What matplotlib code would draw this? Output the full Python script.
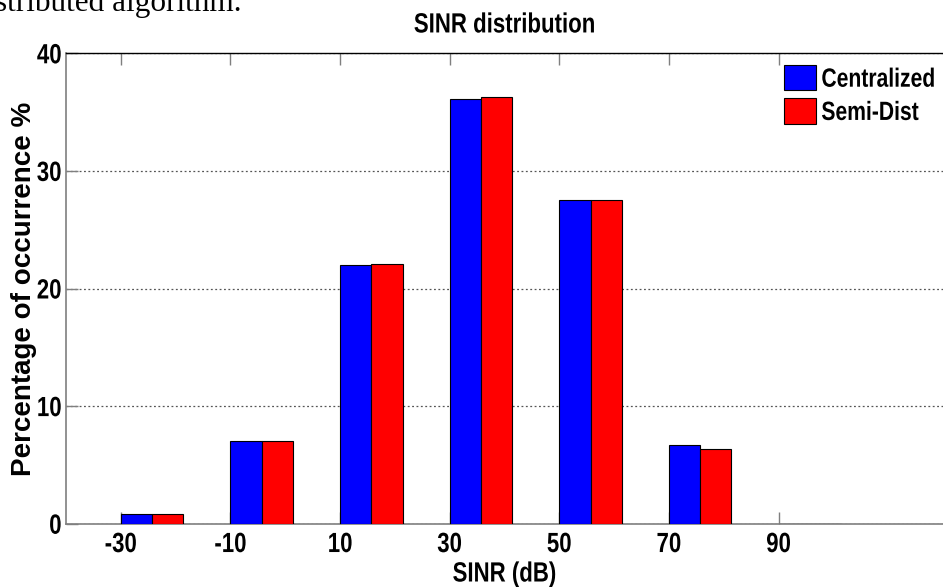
"""
SINR distribution: centralized vs. semi-distributed algorithm.
"""

import matplotlib.pyplot as plt
from matplotlib.patches import Patch
from matplotlib.patheffects import AbstractPathEffect
from matplotlib.transforms import Affine2D

# ---------------------------------------------------------------------
# Data
# ---------------------------------------------------------------------

SINR_BINS = [-30, -10, 10, 30, 50, 70, 90]
CENTRALIZED = [0.8, 7.0, 22.0, 36.1, 27.5, 6.7, 0.0]
SEMI_DIST = [0.8, 7.0, 22.1, 36.3, 27.5, 6.35, 0.0]
SERIES_LABELS = ["Centralized", "Semi-Dist"]
Y_TICKS = [0, 10, 20, 30, 40]

BAR_WIDTH = 5.7
FONT = ["Liberation Sans", "DejaVu Sans"]
SPINE_GREY = "#7f7f7f"
SQUEEZE = 0.8

plt.rcParams["axes.unicode_minus"] = False


class Squeeze(AbstractPathEffect):
    """Draw text horizontally compressed (the original is a narrow bold)."""

    def __init__(self, sx=SQUEEZE, anchor="center"):
        super().__init__()
        self.sx = sx
        self.anchor = anchor

    def draw_path(self, renderer, gc, tpath, affine, rgbFace=None):
        ext = tpath.get_extents()
        if self.anchor == "left":
            x0 = ext.x0
        elif self.anchor == "right":
            x0 = ext.x1
        else:
            x0 = (ext.x0 + ext.x1) / 2
        squeeze = Affine2D().translate(-x0, 0).scale(self.sx, 1).translate(x0, 0)
        renderer.draw_path(gc, tpath, squeeze + affine, rgbFace)


def main() -> None:
    fig = plt.figure(figsize=(9.43, 5.87), dpi=100)
    ax = fig.add_axes([66 / 943, 1 - 523.7 / 587, 877 / 943, 470.4 / 587])

    # bars start at the bin tick and sit side by side
    ax.bar(SINR_BINS, CENTRALIZED, width=BAR_WIDTH, align="edge",
           color="#0000ff", edgecolor="black", linewidth=0.8, zorder=3)
    ax.bar([b + BAR_WIDTH for b in SINR_BINS], SEMI_DIST, width=BAR_WIDTH,
           align="edge", color="#ff0000", edgecolor="black", linewidth=0.8,
           zorder=3)

    ax.set_xlim(-40, 120)
    ax.set_ylim(0, 40)
    ax.set_xticks(SINR_BINS)
    ax.set_yticks(Y_TICKS)
    ax.yaxis.grid(True, linestyle=(0, (1.5, 2.0)), color="#555555",
                  linewidth=0.9, zorder=1)

    ax.tick_params(axis="both", direction="in", length=8.5, width=1,
                   color=SPINE_GREY, top=True, right=False)
    ax.tick_params(axis="x", pad=6)
    ax.tick_params(axis="y", pad=3)
    for lbl in ax.get_xticklabels():
        lbl.set_fontfamily(FONT)
        lbl.set_fontweight("bold")
        lbl.set_fontsize(20)
        lbl.set_path_effects([Squeeze(anchor="center")])
    for lbl in ax.get_yticklabels():
        lbl.set_fontfamily(FONT)
        lbl.set_fontweight("bold")
        lbl.set_fontsize(20)
        lbl.set_path_effects([Squeeze(anchor="right")])

    for side in ("left", "bottom"):
        ax.spines[side].set_color(SPINE_GREY)
        ax.spines[side].set_linewidth(1.2)
    ax.spines["top"].set_color("black")
    ax.spines["top"].set_linewidth(1.0)
    ax.spines["right"].set_visible(False)

    title = ax.set_title("SINR distribution", family=FONT, fontweight="bold",
                         fontsize=20, pad=15)
    title.set_path_effects([Squeeze(anchor="center")])
    xlab = ax.set_xlabel("SINR (dB)", family=FONT, fontweight="bold",
                         fontsize=20, labelpad=2.5)
    xlab.set_path_effects([Squeeze(anchor="center")])
    ax.set_ylabel("Percentage of occurrence %", family=FONT,
                  fontweight="bold", fontsize=20)
    ax.yaxis.set_label_coords(-0.033, 0.5)

    handles = [
        Patch(facecolor="#0000ff", edgecolor="black", linewidth=0.8),
        Patch(facecolor="#ff0000", edgecolor="black", linewidth=0.8),
    ]
    leg = ax.legend(handles, SERIES_LABELS, loc="upper left",
                    bbox_to_anchor=(0.819, 0.975), frameon=False,
                    borderpad=0, borderaxespad=0, handlelength=1.2,
                    handleheight=1.1, handletextpad=0.2, labelspacing=0.25,
                    prop={"family": FONT, "weight": "bold", "size": 19})
    for txt in leg.get_texts():
        txt.set_path_effects([Squeeze(anchor="left")])

    # clipped caption line from the surrounding page
    fig.text(-0.005, 1 - 11 / 587, "stributed algorithm.",
             family=["Liberation Serif", "DejaVu Serif"], fontsize=22.5,
             va="baseline", ha="left")

    fig.savefig("out.png", dpi=100)


if __name__ == "__main__":
    main()
